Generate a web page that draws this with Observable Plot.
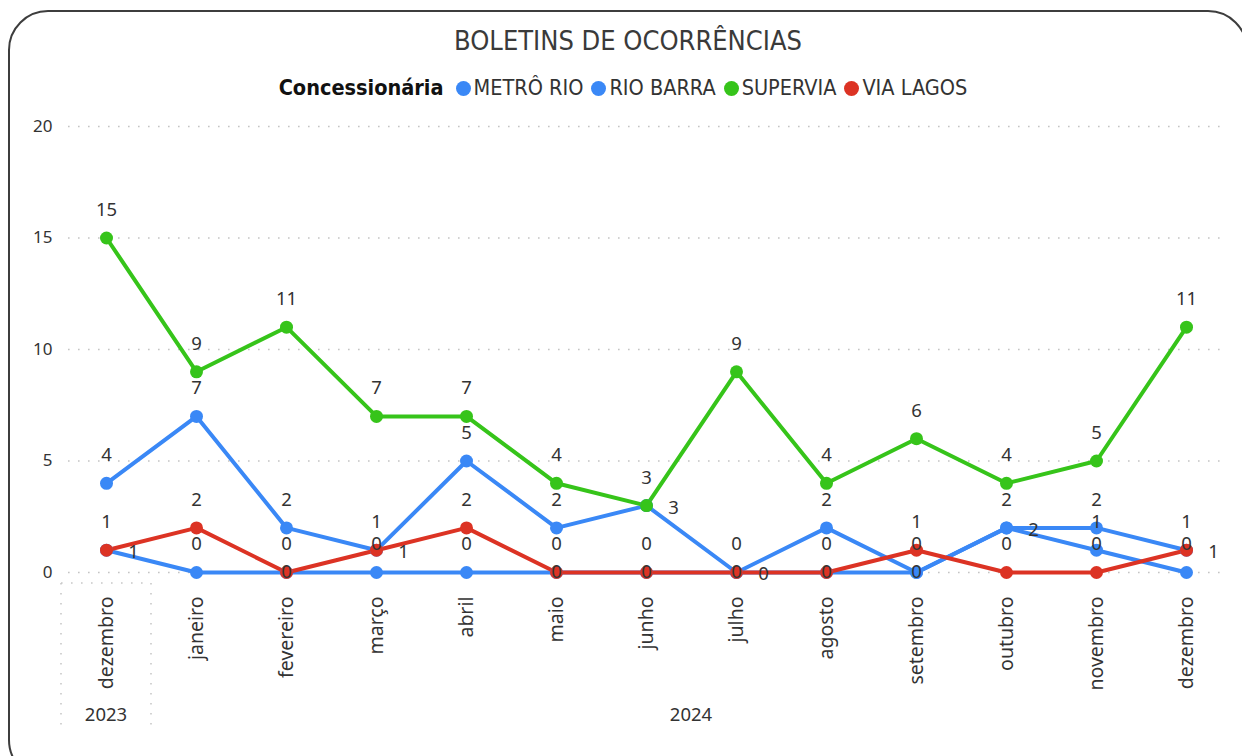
<!DOCTYPE html>
<html>
<head>
<meta charset="utf-8">
<script src="https://cdn.jsdelivr.net/npm/d3@7"></script>
<script src="https://cdn.jsdelivr.net/npm/@observablehq/plot@0.6"></script>
<style>
  html, body { margin: 0; padding: 0; background: #fff; overflow: hidden; }
  #wrap { position: relative; width: 1242px; height: 756px; overflow: hidden; background: #fff; }
  #frame { position: absolute; left: 8px; top: 10px; width: 1240px; height: 770px; border: 2px solid #3d3d3d; border-radius: 40px; box-sizing: border-box; }
  #title { position: absolute; left: 0; top: 25px; width: 1256px; text-align: center; font-family: "DejaVu Sans Condensed", "DejaVu Sans", sans-serif; font-size: 27px; color: #3a3a3a; }
  #legend { position: absolute; left: 0; top: 75px; width: 1254px; text-align: center; font-family: "DejaVu Sans Condensed", "DejaVu Sans", sans-serif; font-size: 21.5px; color: #333; white-space: nowrap; }
  #legend .lt { font-weight: bold; color: #111; margin-right: 12px; }
  #legend .it { display: inline-block; margin-right: 8px; }
  #legend .dot { display: inline-block; width: 15px; height: 15px; border-radius: 50%; margin-right: 3px; vertical-align: -1px; }
  #chart { position: absolute; left: 0; top: 110px; }
  #chart g[aria-label="month-labels"] text { letter-spacing: 0.8px; }
</style>
</head>
<body>
<div id="wrap">
  <div id="frame"></div>
  <div id="title">BOLETINS DE OCORRÊNCIAS</div>
  <div id="legend"></div>
  <div id="chart"></div>
</div>
<script>
// ---- data ----
const periods = ["2023-12","2024-01","2024-02","2024-03","2024-04","2024-05","2024-06","2024-07","2024-08","2024-09","2024-10","2024-11","2024-12"];
const monthLabels = ["dezembro","janeiro","fevereiro","março","abril","maio","junho","julho","agosto","setembro","outubro","novembro","dezembro"];
const years = ["2023","2024","2024","2024","2024","2024","2024","2024","2024","2024","2024","2024","2024"];
const seriesNames = ["METRÔ RIO","RIO BARRA","SUPERVIA","VIA LAGOS"];
const seriesColors = ["#3a88f6","#3a88f6","#36c41a","#dc3324"];
const metroRio = [4,7,2,1,5,2,3,0,2,0,2,2,1];
const rioBarra = [1,0,0,0,0,0,0,0,0,0,2,1,0];
const supervia = [15,9,11,7,7,4,3,9,4,6,4,5,11];
const viaLagos = [1,2,0,1,2,0,0,0,0,1,0,0,1];
const yTicks = [0,5,10,15,20];
const legendTitle = "Concessionária";

const seriesValues = [metroRio, rioBarra, supervia, viaLagos];
const data = seriesNames.flatMap((name, s) =>
  periods.map((p, i) => ({period: p, serie: name, si: s, value: seriesValues[s][i]})));

// ---- legend ----
const leg = document.getElementById("legend");
leg.innerHTML = `<span class="lt">${legendTitle}</span>` + seriesNames.map((n, i) =>
  `<span class="it"><span class="dot" style="background:${seriesColors[i]}"></span>${n}</span>`).join("");

// ---- chart ----
const font = "'Noto Sans', 'Open Sans', sans-serif";
const base = {
  width: 1242,
  height: 646,
  marginTop: 16,
  marginBottom: 184,
  marginLeft: 60,
  marginRight: 11,
  style: {fontFamily: font, background: "transparent", color: "#333"},
  x: {type: "point", domain: periods, padding: 0.5, label: null, axis: null},
  y: {domain: [0, 20], label: null, axis: null},
  color: {domain: seriesNames, range: seriesColors}
};

// probe render to get the scales, then place data labels avoiding collisions
const probe = Plot.plot({...base, marks: [Plot.dot(data, {x: "period", y: "value"})]});
const px = probe.scale("x"), py = probe.scale("y");
const placements = {
  above: {dx: 0, dy: -28},
  below: {dx: 0, dy: 28},
  right: {dx: 27, dy: 2},
  center: {dx: 0, dy: 0}
};
const boxes = [];
const overlaps = (b) => boxes.some(o => !(b.x1 <= o.x0 || b.x0 >= o.x1 || b.y1 <= o.y0 || b.y0 >= o.y1));
periods.forEach(p => {
  const items = data.filter(d => d.period === p).sort((a, b) => b.value - a.value || a.si - b.si);
  const shown = [];
  items.forEach(d => {
    const x = px.apply(d.period), y = py.apply(d.value);
    const w = 11 * String(d.value).length + 4, h = 20;
    const dup = shown.includes(d.value);
    const order = d.value === 0 ? ["above", "center", "right"] : ["above", "right", "below", "center"];
    d.place = null;
    for (const c of order) {
      const {dx, dy} = placements[c];
      const cx = x + dx, cy = y + dy;
      if (c === "below" && cy + h / 2 > py.apply(0) + 4) continue;
      if (c === "center" && dup && d.value !== 0) continue;
      if (cx + w / 2 > 1231) continue;
      const b = {x0: cx - w / 2, x1: cx + w / 2, y0: cy - h / 2, y1: cy + h / 2};
      if (!overlaps(b)) { d.place = c; boxes.push(b); break; }
    }
    if (d.place) shown.push(d.value);
  });
});

const plot = Plot.plot({
  ...base,
  marks: [
    Plot.ruleY(yTicks, {stroke: "#c4c4c4", strokeWidth: 1.6, strokeDasharray: "1.6,8.4", insetLeft: 8, insetRight: 10}),
    Plot.axisY({ticks: yTicks, tickSize: 0, tickPadding: 8, fontSize: 17, fill: "#333", label: null}),
    Plot.text(periods, {x: d => d, y: () => 0, text: (d, i) => monthLabels[i], rotate: -90,
      textAnchor: "end", lineAnchor: "middle", dy: 24, fontSize: 19.5, fill: "#333", ariaLabel: "month-labels"}),
    Plot.line(data, {x: "period", y: "value", z: "serie", stroke: "serie", strokeWidth: 4, curve: "linear"}),
    Plot.dot(data, {x: "period", y: "value", fill: "serie", r: 6.5}),
    ...Object.keys(placements).map(c => Plot.text(data.filter(d => d.place === c), {
      x: "period", y: "value", text: d => String(d.value),
      dx: placements[c].dx, dy: placements[c].dy, fontSize: 18.5, fill: "#333"
    }))
  ]
});
document.getElementById("chart").appendChild(plot);

// ---- hierarchical year axis ----
const sx = plot.scale("x");
const step = sx.apply(periods[1]) - sx.apply(periods[0]);
const svg = d3.select(plot);
const yearGroups = d3.groups(periods.map((p, i) => ({p, y: years[i]})), d => d.y);
const sepTop = 473, sepBottom = 622;
const dotted = {stroke: "#c8c8c8", "stroke-width": 1.6, "stroke-dasharray": "1.6,8.4"};
yearGroups.forEach(([yr, items], gi) => {
  const x0 = sx.apply(items[0].p), x1 = sx.apply(items[items.length - 1].p);
  svg.append("text")
    .attr("x", (x0 + x1) / 2).attr("y", 605)
    .attr("text-anchor", "middle").attr("dy", "0.35em")
    .attr("font-size", 18.5).attr("fill", "#333").attr("font-family", font)
    .text(yr);
  if (gi === 0) {
    [x0 - step / 2, x1 + step / 2].forEach(x => {
      const l = svg.append("line").attr("x1", x).attr("x2", x).attr("y1", sepTop).attr("y2", sepBottom);
      Object.entries(dotted).forEach(([k, v]) => l.attr(k, v));
    });
    const h = svg.append("line").attr("x1", x0 - step / 2).attr("x2", x1 + step / 2).attr("y1", sepTop).attr("y2", sepTop);
    Object.entries(dotted).forEach(([k, v]) => h.attr(k, v));
  }
});
</script>
</body>
</html>
